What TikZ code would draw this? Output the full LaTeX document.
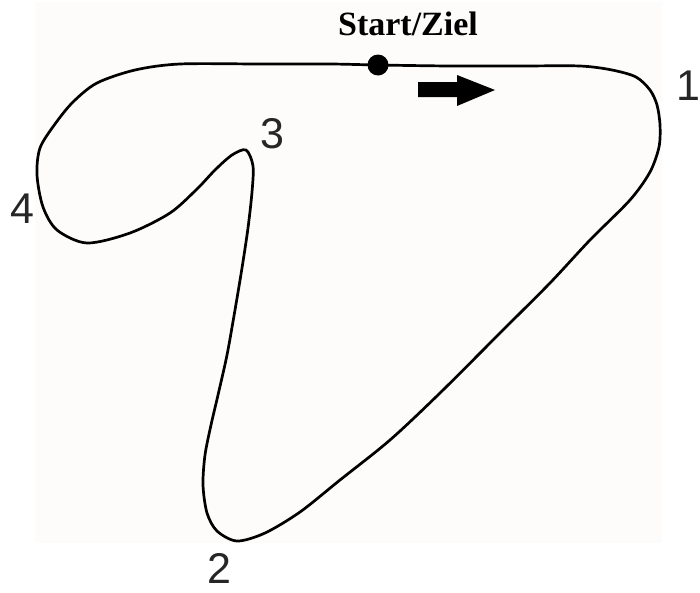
\documentclass[tikz,border=0pt]{standalone}
\usepackage{fontspec}
\setmainfont{Liberation Serif}
\newfontfamily\labfont{Liberation Sans}
\definecolor{paper}{RGB}{253,252,250}
\tikzset{
  track/.style={line width=2.7pt, line join=round, line cap=round},
  num/.style={anchor=base, inner sep=0pt, font=\labfont\fontsize{43}{48}\selectfont, text=black!85},
}
\begin{document}
\begin{tikzpicture}[x=1pt,y=-1pt]
\useasboundingbox (0,0) rectangle (700,592);
\fill[white] (0,0) rectangle (700,592);
\fill[paper] (35,2) rectangle (662,543);
% track
\draw[track] plot[smooth cycle, tension=0.5] coordinates {
 (180,64) (260,64) (330,64) (378,65) (450,66) (520,66) (580,66) (612,70) (636,77) (650,90)
 (657,105) (660,125) (659,147) (650,172) (630,200) (590,240) (550,283) (503,330)
 (440,393) (390,440) (340,480) (300,512) (265,533) (237,541) (217,531) (207,513)
 (203,485) (205,455) (211,425) (218,395) (227,355) (235,310) (242,268) (248,228) (252,192) (253,166)
 (246,150) (232,155) (215,170) (197,189) (170,213) (130,233) (87,243) (57,230)
 (43,207) (37,175) (40,148) (55,124) (73,102) (97,83) (135,70)
};
% start dot
\node[circle, fill=black, inner sep=0pt, minimum size=21pt] (dot) at (378,65) {};
\node[anchor=base, inner sep=0pt, font=\bfseries\fontsize{34}{40}\selectfont] (title) at (408,35) {Start/Ziel};
% direction arrow
\fill[black] (418,82) -- (457,82) -- (457,75) -- (495,90) -- (457,106) -- (457,97) -- (418,97) -- cycle;
% corner labels
\node[num] (n1) at (688,100) {1};
\node[num] (n2) at (219,583) {2};
\node[num] (n3) at (272,148) {3};
\node[num] (n4) at (22,223) {4};
\end{tikzpicture}
\end{document}
